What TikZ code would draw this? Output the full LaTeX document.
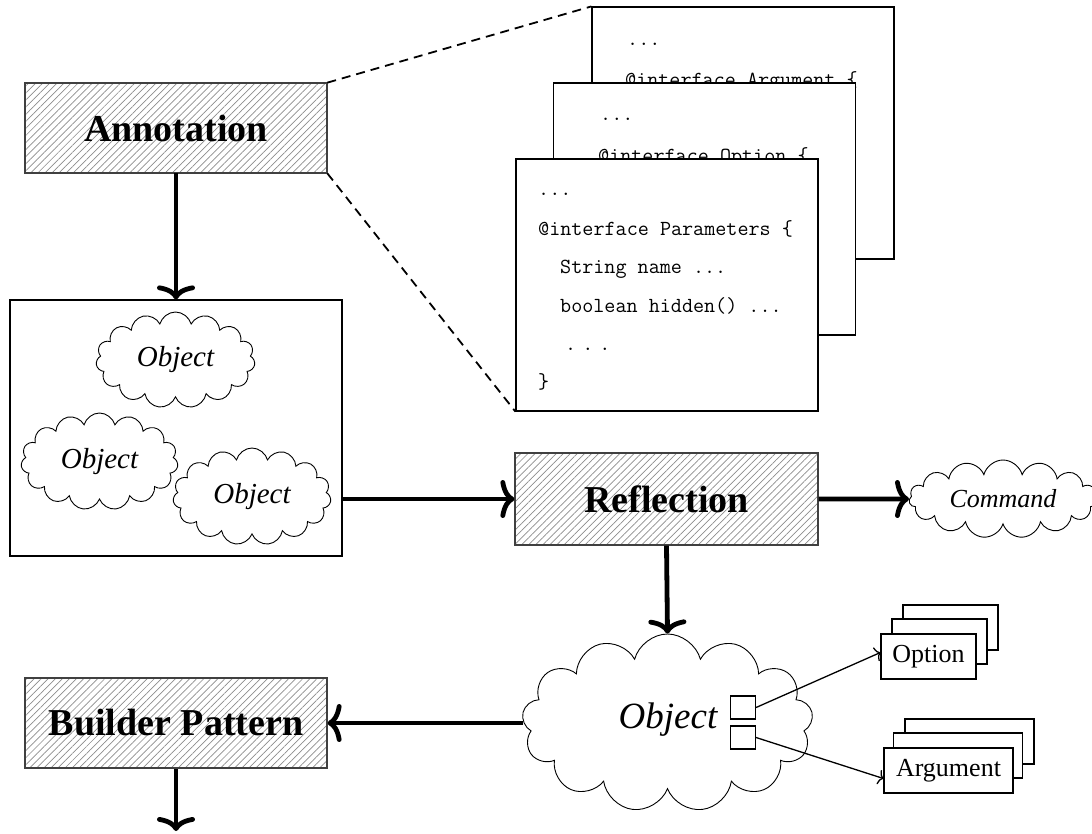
\documentclass[tikz,border=0pt]{standalone}
\usepackage{fontspec}
\setmainfont{Liberation Serif}
\usetikzlibrary{shapes.symbols,patterns.meta,arrows.meta}
\tikzset{
  hatchbox/.style={draw=black!75, line width=1.2pt, pattern={Lines[angle=45,distance=5pt,line width=0.7pt]}, pattern color=black!45,
    minimum width=302pt, minimum height=90pt, inner sep=0pt,
    font=\fontsize{38}{40}\selectfont\bfseries},
  codebox/.style={draw, line width=1.2pt, fill=white, minimum width=302pt, minimum height=252pt, inner sep=0pt},
  codetxt/.style={anchor=base west, inner sep=0pt, font=\fontsize{21.5}{24}\selectfont\ttfamily},
  obj/.style={cloud, draw, line width=0.9pt, fill=white, cloud puffs=15, cloud ignores aspect, inner sep=0pt,
    font=\fontsize{29}{30}\selectfont\itshape},
  stackbox/.style={draw, line width=1.2pt, fill=white, inner sep=0pt, font=\fontsize{26}{28}\selectfont},
  bigarrow/.style={line width=4.8pt, -{Computer Modern Rightarrow[length=14pt,width=38pt,line cap=round]}},
  thinarrow/.style={line width=1.3pt, -{Computer Modern Rightarrow[length=5pt,width=15pt]}},
  dashline/.style={line width=1.8pt, dash pattern=on 9pt off 6pt},
  sq/.style={draw, line width=1.1pt, fill=white, minimum width=25pt, minimum height=23pt, inner sep=0pt}
}
\begin{document}
\begin{tikzpicture}[x=1pt,y=-1pt]
\useasboundingbox (0,0) rectangle (1092,833);

% code boxes
\node[codebox] (cb3) at (743,133) {};
\node[codetxt] (c3a) at (627,45) {...};
\node[codetxt] (c3b) at (625,86) {@interface Argument \{};
\node[codebox] (cb2) at (704.5,209) {};
\node[codetxt] (c2a) at (600,120) {...};
\node[codetxt] (c2b) at (598,162) {@interface Option \{};
\node[codebox] (cb1) at (667,285) {};
\node[codetxt] (c1a) at (538,195) {...};
\node[codetxt] (c1b) at (538,235) {@interface Parameters \{};
\node[codetxt] (c1c) at (560,273) {String name ...};
\node[codetxt] (c1d) at (560,312) {boolean hidden() ...};
\node[codetxt] (c1e) at (565,350) {.\hspace{6pt}.\hspace{6pt}.};
\node[codetxt] (c1f) at (538,388) {\}};

% Annotation
\node[hatchbox] (ann) at (176,128) {Annotation};
\draw[dashline] (ann.north east) -- (cb3.north west);
\draw[dashline] (ann.south east) -- (cb1.south west);

% objects box
\node[draw, line width=1.2pt, minimum width=332pt, minimum height=256pt, inner sep=0pt] (objs) at (176,428) {};
\node[obj, minimum width=159pt, minimum height=96pt] (o1) at (175.5,360) {Object};
\node[obj, minimum width=157pt, minimum height=97pt] (o2) at (99.5,461.5) {Object};
\node[obj, minimum width=158pt, minimum height=97pt] (o3) at (252,496.5) {Object};

\draw[bigarrow] (ann.south) -- (objs.north);

% Reflection
\node[hatchbox, minimum width=303pt, minimum height=92pt] (refl) at (666.5,499) {Reflection};
\draw[bigarrow] (objs.east |- refl.west) -- (refl.west);

% Command
\node[obj, minimum width=188pt, minimum height=78pt, font=\fontsize{26}{28}\selectfont\itshape] (cmd) at (1003,499) {Command};
\draw[bigarrow] (refl.east) -- (cmd.west);

% big object
\node[obj, cloud puffs=13, minimum width=291pt, minimum height=178pt, font=\fontsize{37}{38}\selectfont\itshape] (big) at (667.5,723) {};
\node[inner sep=0pt, font=\fontsize{37}{38}\selectfont\itshape] (bigt) at (668,720) {Object};
\draw[bigarrow] (refl.south) -- (big.north);

\node[sq] (s1) at (743,707.5) {};
\node[sq] (s2) at (743,737.5) {};

% Option stack
\node[stackbox, minimum width=95pt, minimum height=45pt] (op3) at (950.5,627.5) {};
\node[stackbox, minimum width=95pt, minimum height=45pt] (op2) at (939.5,641.5) {};
\node[stackbox, minimum width=95pt, minimum height=45pt] (op1) at (928.5,656.5) {Option};

% Argument stack
\node[stackbox, minimum width=129pt, minimum height=45pt] (ar3) at (969.5,741.5) {};
\node[stackbox, minimum width=129pt, minimum height=45pt] (ar2) at (958,755.5) {};
\node[stackbox, minimum width=129pt, minimum height=45pt] (ar1) at (948.5,770.5) {Argument};

\draw[thinarrow] (s1.east) -- ([yshift=4pt]op1.west);
\draw[thinarrow] (s2.east) -- ([yshift=-8pt]ar1.west);

% Builder Pattern
\node[hatchbox] (bp) at (176,723) {Builder Pattern};
\draw[bigarrow] (big.west) -- (big.west -| bp.east);
\coordinate (bpend) at (176,831);
\draw[bigarrow] (bp.south) -- (bpend);
\end{tikzpicture}
\end{document}
